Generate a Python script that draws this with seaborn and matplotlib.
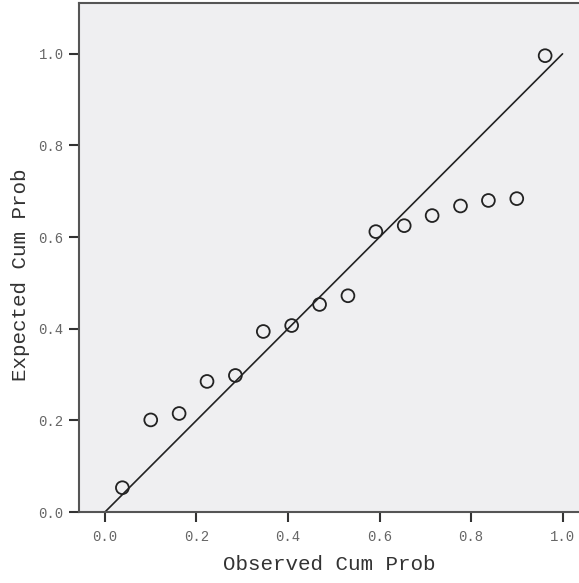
import matplotlib
matplotlib.use("Agg")
import matplotlib.pyplot as plt
import seaborn as sns
import pandas as pd

# Observed vs expected cumulative probabilities (P-P plot)
observed = [0.038, 0.100, 0.162, 0.223, 0.285, 0.346, 0.408, 0.469,
            0.531, 0.592, 0.654, 0.715, 0.777, 0.838, 0.900, 0.962]
expected = [0.053, 0.201, 0.215, 0.285, 0.298, 0.394, 0.407, 0.453,
            0.472, 0.612, 0.625, 0.647, 0.668, 0.680, 0.684, 0.996]
ref_line = [0.0, 1.0]
ticks = [0.0, 0.2, 0.4, 0.6, 0.8, 1.0]
tick_labels = ["0.0", "0.2", "0.4", "0.6", "0.8", "1.0"]

df = pd.DataFrame({"Observed Cum Prob": observed, "Expected Cum Prob": expected})
line_df = pd.DataFrame({"x": ref_line, "y": ref_line})

sns.set_theme(style="white")
plt.rcParams["font.family"] = ["Liberation Mono", "DejaVu Sans Mono"]

fig = plt.figure(figsize=(5.79, 5.83), dpi=100)
ax = fig.add_axes([79 / 579, 1 - 512 / 583, 1 - 79 / 579, (512 - 3) / 583])
ax.set_facecolor("#efeff1")

sns.lineplot(data=line_df, x="x", y="y", ax=ax, color="#222222",
             linewidth=1.2, zorder=2)
sns.scatterplot(data=df, x="Observed Cum Prob", y="Expected Cum Prob", ax=ax,
                s=85, facecolor="none", edgecolor="#222222", linewidth=1.3,
                zorder=3)

ax.set_xlim(-0.0568, 1.036)
ax.set_ylim(0.0, 1.111)
ax.set_xticks(ticks)
ax.set_yticks(ticks)
ax.set_xticklabels(tick_labels)
ax.set_yticklabels(tick_labels)
ax.tick_params(axis="both", which="major", direction="out", length=7,
               width=1.5, color="#333333", labelsize=10, labelcolor="#666666",
               pad=4, left=True, bottom=True)
ax.tick_params(axis="x", pad=6)

for side in ["left", "bottom", "top"]:
    ax.spines[side].set_color("#555555")
    ax.spines[side].set_linewidth(1.5)
ax.spines["right"].set_visible(False)

ax.set_xlabel("Observed Cum Prob", fontsize=15, color="#333333", labelpad=8)
ax.set_ylabel("Expected Cum Prob", fontsize=15, color="#333333")
ax.yaxis.set_label_coords(-0.097, 0.466)

fig.savefig("out.png", dpi=100)
